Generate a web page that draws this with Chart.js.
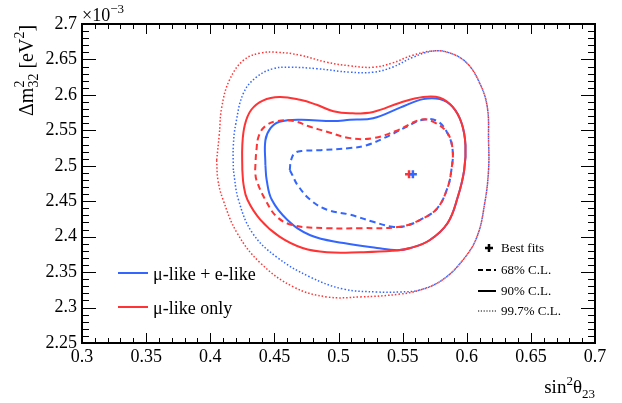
<!DOCTYPE html>
<html>
<head>
<meta charset="utf-8">
<script src="https://cdn.jsdelivr.net/npm/chart.js@4.4.1/dist/chart.umd.min.js"></script>
<style>
  body { margin: 0; background: #fff; }
  #wrap { width: 622px; height: 403px; }
</style>
</head>
<body>
<div id="wrap"><canvas id="contours" width="622" height="403"></canvas></div>
<script>
// axis tick labels
var xTicks = [0.3, 0.35, 0.4, 0.45, 0.5, 0.55, 0.6, 0.65, 0.7];
var yTicks = [2.25, 2.3, 2.35, 2.4, 2.45, 2.5, 2.55, 2.6, 2.65, 2.7];

// contours, x = sin^2 theta23, y = dm2_32 in 1e-3 eV^2
// mu-like only (red)
var muOnly997X = [0.405,0.407,0.409,0.415,0.426,0.439,0.453,0.470,0.491,0.509,0.527,0.542,0.558,0.574,0.587,0.600,0.610,0.616,0.617,0.617,0.614,0.608,0.597,0.581,0.564,0.548,0.517,0.491,0.465,0.439,0.421,0.410,0.406];
var muOnly997Y = [2.508,2.543,2.583,2.621,2.649,2.659,2.660,2.656,2.646,2.641,2.639,2.645,2.656,2.662,2.659,2.645,2.617,2.583,2.536,2.494,2.447,2.400,2.367,2.339,2.325,2.319,2.315,2.315,2.329,2.363,2.405,2.452,2.480];
var muOnly90X = [0.425,0.425,0.427,0.432,0.441,0.454,0.470,0.483,0.496,0.509,0.527,0.548,0.566,0.579,0.589,0.596,0.599,0.598,0.593,0.585,0.571,0.556,0.542,0.517,0.491,0.472,0.454,0.439,0.429,0.426];
var muOnly90Y = [2.494,2.529,2.558,2.579,2.592,2.597,2.593,2.586,2.577,2.574,2.576,2.589,2.597,2.596,2.583,2.560,2.529,2.494,2.456,2.419,2.395,2.384,2.380,2.378,2.378,2.384,2.400,2.424,2.452,2.473];
var muOnly68X = [0.435,0.436,0.438,0.443,0.452,0.465,0.478,0.491,0.509,0.527,0.546,0.564,0.574,0.585,0.589,0.588,0.585,0.577,0.564,0.548,0.517,0.491,0.465,0.452,0.443,0.436];
var muOnly68Y = [2.494,2.522,2.543,2.556,2.563,2.563,2.555,2.548,2.539,2.539,2.550,2.565,2.562,2.546,2.522,2.494,2.469,2.440,2.424,2.414,2.412,2.412,2.416,2.428,2.452,2.480];
// mu-like + e-like (blue)
var muE997X = [0.418,0.418,0.420,0.426,0.436,0.449,0.462,0.483,0.509,0.527,0.542,0.558,0.574,0.587,0.600,0.610,0.616,0.617,0.617,0.614,0.608,0.597,0.581,0.564,0.548,0.530,0.504,0.478,0.452,0.433,0.422];
var muE997Y = [2.494,2.529,2.560,2.603,2.625,2.637,2.639,2.637,2.632,2.632,2.639,2.653,2.662,2.659,2.645,2.617,2.583,2.536,2.494,2.447,2.400,2.367,2.339,2.325,2.322,2.322,2.326,2.343,2.371,2.405,2.452];
var muE90X = [0.443,0.443,0.447,0.454,0.470,0.496,0.509,0.527,0.548,0.566,0.579,0.589,0.596,0.599,0.598,0.593,0.585,0.571,0.556,0.546,0.530,0.504,0.478,0.460,0.448,0.444];
var muE90Y = [2.501,2.536,2.553,2.562,2.565,2.563,2.565,2.567,2.582,2.594,2.594,2.583,2.560,2.529,2.494,2.456,2.419,2.395,2.384,2.381,2.384,2.391,2.402,2.424,2.452,2.480];
var muE68X = [0.462,0.463,0.466,0.472,0.486,0.509,0.522,0.540,0.553,0.566,0.577,0.585,0.589,0.588,0.585,0.577,0.564,0.552,0.542,0.527,0.509,0.491,0.478,0.468,0.464];
var muE68Y = [2.494,2.508,2.518,2.521,2.522,2.525,2.529,2.543,2.555,2.565,2.563,2.546,2.522,2.494,2.469,2.440,2.424,2.415,2.414,2.421,2.431,2.438,2.452,2.473,2.487];
// best fit points [x, y]
var bestMuOnly = [0.555, 2.488];
var bestMuE = [0.558, 2.488];

var red = 'rgb(255,51,51)';
var blue = 'rgb(51,102,255)';
var serif = '"Liberation Serif", "DejaVu Serif", serif';

function contour(xs, ys) {
  var pts = xs.map(function(x, i) { return {x: x, y: ys[i]}; });
  pts.push(pts[0]);
  return pts;
}

function line(data, color, style) {
  var ds = {data: data, borderColor: color, showLine: true, pointRadius: 0, tension: 0.4, fill: false, borderWidth: 2};
  if (style == 'dash') ds.borderDash = [6, 4];
  if (style == 'dot') { ds.borderDash = [1.5, 2]; ds.borderWidth = 1.5; }
  return ds;
}

// draws a list of [text, size, dy, noAdvance] runs along a baseline
function runs(ctx, x, y, parts) {
  parts.forEach(function(p) {
    ctx.font = p[1] + 'px ' + serif;
    ctx.fillText(p[0], x, y + (p[2] || 0));
    if (!p[3]) x += ctx.measureText(p[0]).width;
  });
  return x;
}

var framePlugin = {
  id: 'frame',
  afterDraw: function(chart) {
    var ctx = chart.ctx, a = chart.chartArea, sx = chart.scales.x, sy = chart.scales.y;
    ctx.save();
    ctx.strokeStyle = '#000';
    ctx.fillStyle = '#000';
    ctx.lineWidth = 1;
    ctx.beginPath();
    for (var i = 0; i <= 40; i++) {
      var px = Math.round(sx.getPixelForValue(0.3 + i * 0.01)) + 0.5;
      var len = i % 5 == 0 ? 10 : 5;
      ctx.moveTo(px, a.bottom); ctx.lineTo(px, a.bottom - len);
      ctx.moveTo(px, a.top); ctx.lineTo(px, a.top + len);
    }
    for (var j = 0; j <= 45; j++) {
      var py = Math.round(sy.getPixelForValue(2.25 + j * 0.01)) + 0.5;
      var l2 = j % 5 == 0 ? 14 : 7;
      ctx.moveTo(a.left, py); ctx.lineTo(a.left + l2, py);
      ctx.moveTo(a.right, py); ctx.lineTo(a.right - l2, py);
    }
    ctx.stroke();
    ctx.lineWidth = 2;
    ctx.strokeRect(a.left, a.top, a.right - a.left, a.bottom - a.top);

    // axis titles
    ctx.textBaseline = 'alphabetic';
    ctx.textAlign = 'left';
    var w = 0;
    [['sin', 19], ['2', 13], ['\u03b8', 19], ['23', 13]].forEach(function(p) {
      ctx.font = p[1] + 'px ' + serif; w += ctx.measureText(p[0]).width;
    });
    runs(ctx, a.right - w, 393, [['sin', 19], ['2', 13, -8], ['\u03b8', 19], ['23', 13, 5]]);

    ctx.save();
    ctx.translate(33, 116);
    ctx.rotate(-Math.PI / 2);
    var x0 = runs(ctx, 0, 0, [['\u0394m', 20]]);
    runs(ctx, x0, 0, [['2', 14, -9, true], ['32', 14, 5]]);
    ctx.font = '14px ' + serif;
    x0 += ctx.measureText('32').width;
    runs(ctx, x0, 0, [[' [eV', 20], ['2', 14, -9], [']', 20]]);
    ctx.restore();

    runs(ctx, a.left, 21, [['\u00d710', 18], ['\u22123', 13, -8]]);

    // left legend
    ctx.lineWidth = 2;
    [[blue, 273, '\u03bc-like + e-like'], [red, 307, '\u03bc-like only']].forEach(function(e) {
      ctx.strokeStyle = e[0];
      ctx.beginPath(); ctx.moveTo(118, e[1]); ctx.lineTo(148, e[1]); ctx.stroke();
      ctx.font = '18px ' + serif;
      ctx.fillText(e[2], 153, e[1] + 7);
    });

    // right legend
    ctx.strokeStyle = '#000';
    ctx.lineWidth = 2.5;
    ctx.beginPath();
    ctx.moveTo(485, 248); ctx.lineTo(493, 248);
    ctx.moveTo(489, 244); ctx.lineTo(489, 252);
    ctx.stroke();
    ctx.font = '13px ' + serif;
    ctx.fillText('Best fits', 501, 252);
    [[270, [5, 3], 1.8, '68% C.L.'], [291, [], 2, '90% C.L.'], [311, [1.2, 1.6], 1.2, '99.7% C.L.']].forEach(function(e) {
      ctx.setLineDash(e[1]);
      ctx.lineWidth = e[2];
      ctx.beginPath(); ctx.moveTo(478, e[0]); ctx.lineTo(496, e[0]); ctx.stroke();
      ctx.fillText(e[3], 501, e[0] + 4);
    });
    ctx.restore();
  }
};

Chart.defaults.font.family = serif;
Chart.defaults.color = '#000';

var tickFont = {family: serif, size: 18};

var ctx = document.getElementById('contours');
var chart = new Chart(ctx, {
  type: 'scatter',
  data: {
    datasets: [
      line(contour(muOnly997X, muOnly997Y), red, 'dot'),
      line(contour(muOnly90X, muOnly90Y), red, 'solid'),
      line(contour(muOnly68X, muOnly68Y), red, 'dash'),
      line(contour(muE997X, muE997Y), blue, 'dot'),
      line(contour(muE90X, muE90Y), blue, 'solid'),
      line(contour(muE68X, muE68Y), blue, 'dash'),
      {data: [{x: bestMuE[0], y: bestMuE[1]}], pointStyle: 'cross', pointRadius: 4, borderWidth: 2.5, borderColor: blue},
      {data: [{x: bestMuOnly[0], y: bestMuOnly[1]}], pointStyle: 'cross', pointRadius: 4, borderWidth: 2.5, borderColor: red}
    ]
  },
  options: {
    responsive: false,
    animation: false,
    layout: {padding: {left: 0, top: 24, right: 27, bottom: 0}},
    plugins: {legend: {display: false}, tooltip: {enabled: false}},
    scales: {
      x: {
        type: 'linear', min: 0.3, max: 0.7,
        grid: {display: false, drawTicks: false},
        border: {display: false},
        afterBuildTicks: function(s) { s.ticks = xTicks.map(function(v) { return {value: v}; }); },
        afterFit: function(s) { s.height = 60; },
        ticks: {padding: 3, maxRotation: 0, color: '#000', font: tickFont, callback: function(v) { return String(v); }}
      },
      y: {
        type: 'linear', min: 2.25, max: 2.7,
        grid: {display: false, drawTicks: false},
        border: {display: false},
        afterBuildTicks: function(s) { s.ticks = yTicks.map(function(v) { return {value: v}; }); },
        afterFit: function(s) { s.width = 82; },
        ticks: {padding: 5, color: '#000', font: tickFont, callback: function(v) { return String(v); }}
      }
    }
  },
  plugins: [framePlugin]
});
</script>
</body>
</html>
